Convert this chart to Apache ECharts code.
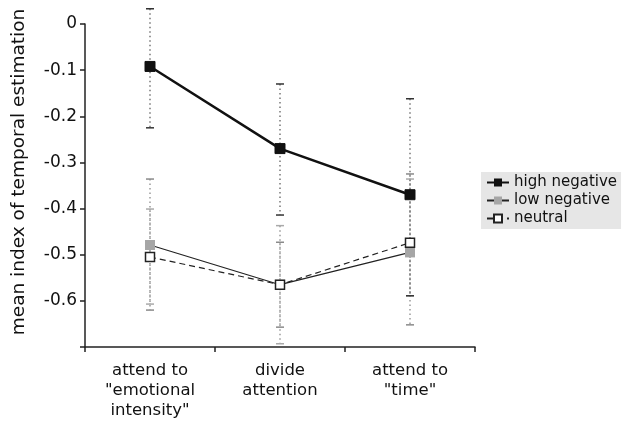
<!DOCTYPE html>
<html>
<head>
<meta charset="utf-8">
<script src="https://cdn.jsdelivr.net/npm/echarts@6/dist/echarts.min.js"></script>
<style>html,body{margin:0;padding:0;background:#fff}#c{width:628px;height:421px}</style>
</head>
<body>
<div id="c"></div>
<script>
var categories = ['attend to\n"emotional\nintensity"', 'divide\nattention', 'attend to\n"time"'];
var highNegative = [-0.092, -0.270, -0.370];
var lowNegative = [-0.479, -0.565, -0.495];
var neutral = [-0.505, -0.565, -0.474];
var highNegErr = [[0.033, -0.225], [-0.130, -0.414], [-0.162, -0.589]];
var lowNegErr = [[-0.336, -0.620], [-0.473, -0.657], [-0.325, -0.652]];
var neutralErr = [[-0.401, -0.607], [-0.437, -0.693], [-0.336, -0.589]];
var yTicks = [0, -0.1, -0.2, -0.3, -0.4, -0.5, -0.6];

var FONT = 'DejaVu Sans';

function errData(arr) {
  return arr.map(function (e, i) { return [i, e[0], e[1]]; });
}
function errSeries(arr, color, dashColor) {
  return {
    type: 'custom',
    silent: true,
    z: 1,
    data: errData(arr),
    renderItem: function (params, api) {
      var top = api.coord([api.value(0), api.value(1)]);
      var bot = api.coord([api.value(0), api.value(2)]);
      var x = top[0];
      var cw = 4;
      return {
        type: 'group',
        children: [
          { type: 'line', shape: { x1: x, y1: top[1], x2: x, y2: bot[1] },
            style: { stroke: dashColor, lineWidth: 1.5, lineDash: [1.5, 3] } },
          { type: 'line', shape: { x1: x - cw, y1: top[1], x2: x + cw, y2: top[1] },
            style: { stroke: color, lineWidth: 1.5 } },
          { type: 'line', shape: { x1: x - cw, y1: bot[1], x2: x + cw, y2: bot[1] },
            style: { stroke: color, lineWidth: 1.5 } }
        ]
      };
    }
  };
}

var chart = echarts.init(document.getElementById('c'), null, { renderer: 'canvas' });
chart.setOption({
  animation: false,
  textStyle: { fontFamily: FONT },
  grid: { left: 85, right: 153, top: 24, bottom: 74 },
  graphic: [{
    type: 'text',
    x: 19, y: 172,
    rotation: Math.PI / 2,
    style: { text: 'mean index of temporal estimation', fontFamily: FONT, fontSize: 18.5,
      fill: '#111', textAlign: 'center', textVerticalAlign: 'middle' }
  }],
  legend: {
    orient: 'vertical',
    left: 481, top: 172,
    backgroundColor: '#e6e6e6',
    padding: [3, 4, 3, 5],
    itemGap: 3,
    itemWidth: 22,
    itemHeight: 10,
    textStyle: { fontFamily: FONT, fontSize: 15, color: '#111' },
    data: ['high negative', 'low negative', 'neutral']
  },
  xAxis: {
    type: 'category',
    data: categories,
    boundaryGap: true,
    axisLine: { onZero: false, lineStyle: { color: '#222', width: 1.5 } },
    axisTick: { show: true, length: 5, lineStyle: { color: '#222', width: 1.5 } },
    axisLabel: { fontFamily: FONT, fontSize: 16.5, color: '#111', margin: 14, lineHeight: 20, interval: 0 }
  },
  yAxis: {
    type: 'value',
    min: -0.7, max: 0, interval: 0.1,
    axisLine: { show: true, lineStyle: { color: '#222', width: 1.5 } },
    axisTick: { show: true, length: 5, lineStyle: { color: '#222', width: 1.5 } },
    splitLine: { show: false },
    axisLabel: {
      fontFamily: FONT, fontSize: 17, color: '#111', margin: 8,
      formatter: function (v) {
        var r = Math.round(v * 10) / 10;
        for (var i = 0; i < yTicks.length; i++) { if (Math.abs(yTicks[i] - r) < 1e-9) return r === 0 ? '0' : r.toFixed(1); }
        return '';
      }
    }
  },
  series: [
    errSeries(lowNegErr, '#8a8a8a', '#9a9a9a'),
    errSeries(neutralErr, '#aaaaaa', '#9a9a9a'),
    errSeries(highNegErr, '#333', '#777'),
    {
      name: 'low negative', type: 'line', data: lowNegative, z: 3,
      symbol: 'rect', symbolSize: 10,
      lineStyle: { color: '#222', width: 1.2 },
      itemStyle: { color: '#a6a6a6', borderColor: '#a6a6a6', borderWidth: 0 }
    },
    {
      name: 'neutral', type: 'line', data: neutral, z: 4,
      symbol: 'rect', symbolSize: 9,
      lineStyle: { color: '#222', width: 1.2, type: [6, 4] },
      itemStyle: { color: '#fff', borderColor: '#222', borderWidth: 1.5 }
    },
    {
      name: 'high negative', type: 'line', data: highNegative, z: 5,
      symbol: 'rect', symbolSize: 10,
      lineStyle: { color: '#111', width: 2.5 },
      itemStyle: { color: '#111', borderColor: '#111' }
    }
  ]
});
</script>
</body>
</html>
